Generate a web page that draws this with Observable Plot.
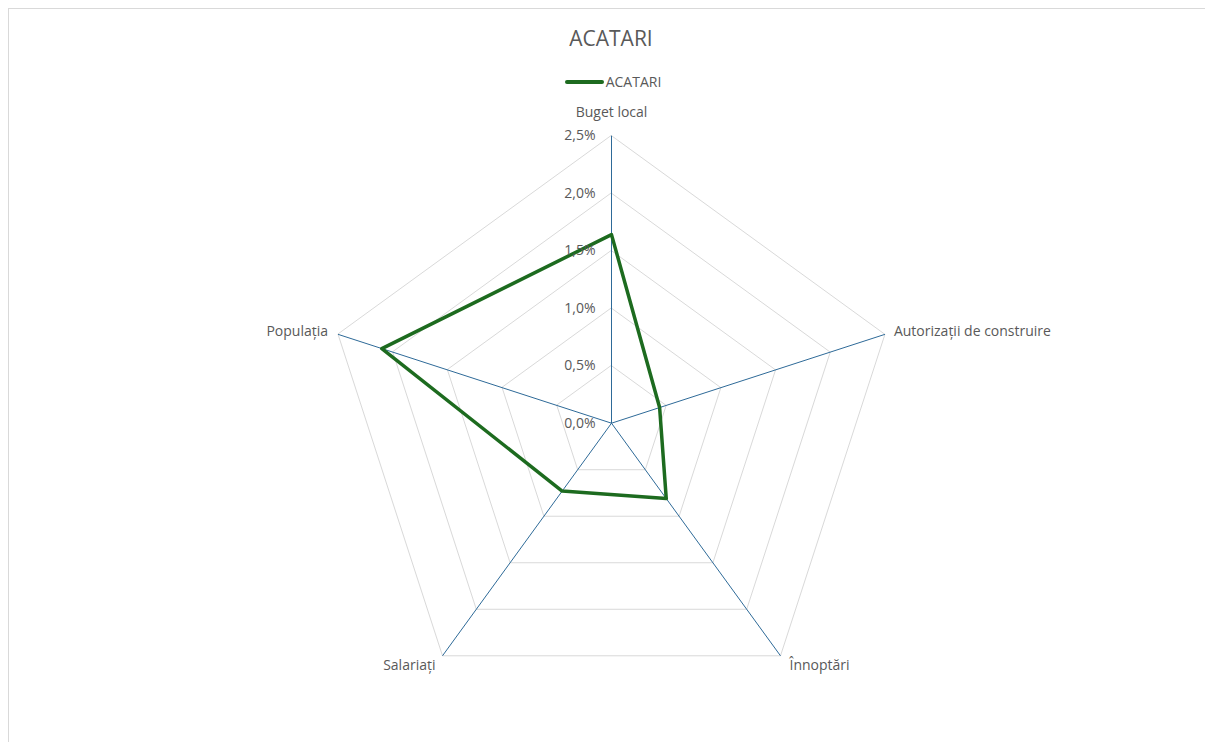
<!DOCTYPE html>
<html><head><meta charset="utf-8">
<script src="https://cdn.jsdelivr.net/npm/d3@7"></script>
<script src="https://cdn.jsdelivr.net/npm/@observablehq/plot@0.6"></script>
<style>
html,body{margin:0;padding:0;background:#fff;overflow:hidden;}
body{font-family:"Open Sans",sans-serif;width:1205px;height:742px;position:relative;}
#frame{position:absolute;left:8px;top:8px;width:1400px;height:900px;border:1px solid #d9d9d9;box-sizing:border-box;}
#header{position:relative;height:100px;}
#title{position:absolute;left:0;width:1222px;top:24px;text-align:center;font-size:21px;color:#595959;line-height:28px;}
#legend{position:absolute;left:0;width:1226px;top:74px;display:flex;justify-content:center;align-items:center;font-size:14px;color:#595959;line-height:16px;}
#legend .sw{display:inline-block;width:39px;height:4px;background:#1d6b1f;border-radius:2px;margin-right:2px;}
#chart{position:relative;}
</style></head>
<body>
<div id="frame"></div>
<div id="header"><div id="title">ACATARI</div><div id="legend"><span class="sw"></span><span id="legendText"></span></div></div>
<div id="chart"></div>
<script>
const categories = ["Buget local", "Autorizații de construire", "Înnoptări", "Salariați", "Populația"];
const seriesName = "ACATARI";
const values = [1.64, 0.44, 0.81, 0.73, 2.10];
const ticks = [0, 0.5, 1.0, 1.5, 2.0, 2.5];
const tickLabels = ["0,0%", "0,5%", "1,0%", "1,5%", "2,0%", "2,5%"];

(function () {
document.getElementById("legendText").textContent = seriesName;

const W = 1205, H = 642, cx = 611, cy = 322.7, maxR = 287.5;
const rMax = ticks[ticks.length - 1];
const k = maxR / rMax;
const n = categories.length;
const ang = i => i * 2 * Math.PI / n;
const px = (r, i) => r * Math.sin(ang(i));
const py = (r, i) => r * Math.cos(ang(i));

const rings = ticks.filter(t => t > 0).flatMap(t => categories.map((c, i) => ({ring: t, x: px(t, i), y: py(t, i)})));
const spokes = categories.map((c, i) => ({x: px(rMax, i), y: py(rMax, i), label: c, i}));
const series = categories.map((c, i) => ({x: px(values[i], i), y: py(values[i], i)}));
const tickData = ticks.map((t, j) => ({x: 0, y: t, label: tickLabels[j]}));

const textColor = "#595959";
const fs = 14;
const topLab = spokes.filter(d => d.i === 0);
const rightUp = spokes.filter(d => d.i > 0 && d.i < n / 2 && py(1, d.i) >= 0);
const rightDown = spokes.filter(d => d.i > 0 && d.i < n / 2 && py(1, d.i) < 0);
const leftUp = spokes.filter(d => d.i > n / 2 && py(1, d.i) >= 0);
const leftDown = spokes.filter(d => d.i > n / 2 && py(1, d.i) < 0);

const chart = Plot.plot({
  width: W, height: H, margin: 0,
  axis: null,
  x: {domain: [-cx / k, (W - cx) / k], range: [0, W]},
  y: {domain: [(cy - H) / k, cy / k], range: [H, 0]},
  style: {fontFamily: "'Open Sans', sans-serif", background: "transparent", overflow: "visible"},
  marks: [
    Plot.line(rings, {x: "x", y: "y", z: "ring", curve: "linear-closed", stroke: "#d9d9d9", strokeWidth: 1}),
    Plot.link(spokes, {x1: d => 0, y1: d => 0, x2: "x", y2: "y", stroke: "#2e6a98", strokeWidth: 1}),
    Plot.line(series, {x: "x", y: "y", curve: "linear-closed", stroke: "#1d6b1f", strokeWidth: 3.5, strokeLinejoin: "round"}),
    Plot.text(tickData, {x: "x", y: "y", text: "label", textAnchor: "end", dx: -16, fontSize: fs, fill: textColor}),
    Plot.text(topLab, {x: "x", y: "y", text: "label", textAnchor: "middle", dy: -23, fontSize: fs, fill: textColor}),
    Plot.text(rightUp, {x: "x", y: "y", text: "label", textAnchor: "start", dx: 9, dy: -3, fontSize: fs, fill: textColor}),
    Plot.text(rightDown, {x: "x", y: "y", text: "label", textAnchor: "start", dx: 9, dy: 10, fontSize: fs, fill: textColor}),
    Plot.text(leftUp, {x: "x", y: "y", text: "label", textAnchor: "end", dx: -10, dy: -3, fontSize: fs, fill: textColor}),
    Plot.text(leftDown, {x: "x", y: "y", text: "label", textAnchor: "end", dx: -7, dy: 10, fontSize: fs, fill: textColor})
  ]
});
document.getElementById("chart").appendChild(chart);
})();
</script>
</body></html>
